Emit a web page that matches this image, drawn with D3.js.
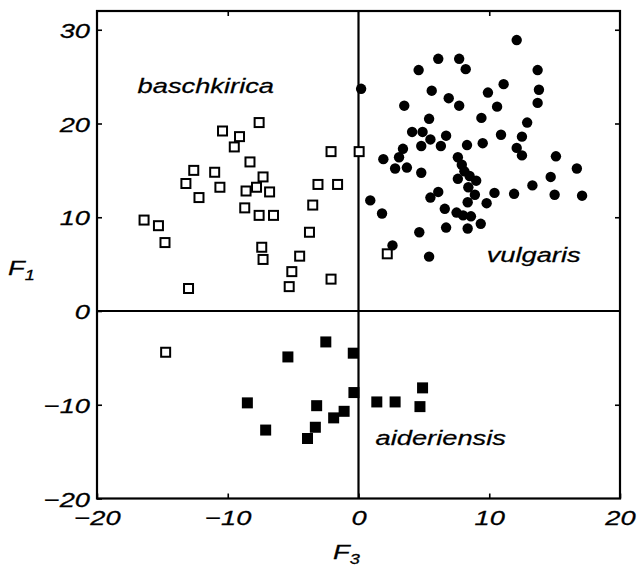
<!DOCTYPE html>
<html lang="en">
  <head>
    <meta charset="utf-8">
    <title>F3 vs F1</title>
    <script src="https://cdn.jsdelivr.net/npm/d3@7"></script>
    <style>
      body { margin: 0; background: #fff; }
      text { font-family: "Liberation Sans", Arial, sans-serif; font-style: italic; fill: #000; stroke: #000; stroke-width: 0.25; }
      .frame, .zero { fill: none; stroke: #000; stroke-width: 2.2; }
      .axis line { stroke: #000; stroke-width: 1.6; }
      .axis path { display: none; }
      .open { fill: #fff; stroke: #000; stroke-width: 2; }
      .filled { fill: #000; }
    </style>
  </head>
  <body>
    <script>
      // values, [F3, F1]
      var baschkirica = [
        [-7.6, 20.1], [-10.4, 19.2], [-9.1, 18.6], [-9.5, 17.5], [-2.1, 17.0], [0.05, 17.0],
        [-8.3, 15.9], [-12.6, 15.0], [-11.0, 14.8], [-7.3, 14.3], [-13.2, 13.6], [-3.1, 13.5],
        [-1.6, 13.5], [-7.8, 13.2], [-10.6, 13.2], [-8.6, 12.8], [-6.8, 12.7], [-12.2, 12.1],
        [-3.5, 11.3], [-8.7, 11.0], [-7.6, 10.2], [-6.5, 10.2], [-16.4, 9.7], [-15.3, 9.1],
        [-14.8, 7.3], [-3.75, 8.4], [-7.4, 6.8], [-7.3, 5.5], [-4.5, 5.85], [-5.1, 4.2],
        [-5.3, 2.6], [-2.1, 3.4], [-13.0, 2.4], [2.2, 6.1], [-14.75, -4.4]
      ];
      var vulgaris = [
        [0.2, 23.7], [12.1, 28.9], [6.1, 26.9], [7.7, 26.9], [8.2, 25.8], [4.6, 25.7],
        [13.7, 25.7], [11.1, 24.2], [5.6, 23.5], [9.9, 23.3], [13.8, 23.6], [6.9, 22.7],
        [7.7, 21.9], [13.7, 22.2], [3.5, 21.9], [10.6, 21.8], [9.4, 20.6], [5.4, 20.5],
        [12.9, 20.1], [4.1, 19.1], [4.9, 19.1], [5.5, 18.3], [6.7, 18.7], [10.9, 18.8],
        [12.5, 18.6], [4.8, 17.6], [6.3, 17.6], [8.3, 17.7], [9.5, 17.9], [3.4, 17.3],
        [12.1, 17.4], [12.5, 16.6], [1.9, 16.2], [3.1, 16.4], [7.6, 16.4], [15.1, 16.5],
        [2.8, 15.2], [3.7, 15.3], [7.9, 15.6], [8.1, 14.9], [4.8, 14.75], [16.7, 15.2],
        [7.6, 14.1], [8.5, 14.4], [14.7, 14.3], [9.0, 13.9], [6.1, 12.7], [5.5, 12.1],
        [8.4, 13.2], [8.9, 12.4], [10.4, 12.6], [11.9, 12.5], [13.3, 13.4], [15.0, 12.4],
        [17.1, 12.3], [0.9, 11.8], [8.35, 11.6], [9.8, 11.5], [6.6, 10.9], [7.5, 10.5],
        [8.0, 10.2], [8.6, 10.1], [9.35, 9.3], [8.35, 8.8], [6.7, 8.9], [1.8, 10.4],
        [4.65, 8.4], [2.6, 7.0], [5.4, 5.8]
      ];
      var aideriensis = [
        [-2.5, -3.3], [-5.4, -4.9], [-0.4, -4.5], [-0.35, -8.7], [-8.5, -9.8], [-3.2, -10.1],
        [1.4, -9.7], [2.8, -9.7], [4.7, -10.2], [4.9, -8.2], [-1.1, -10.7], [-1.9, -11.4],
        [-7.1, -12.7], [-3.3, -12.4], [-3.9, -13.6]
      ];
      var xTicks = [-20, -10, 0, 10, 20];
      var yTicks = [-20, -10, 0, 10, 20, 30];
      var groupLabels = [
        { text: "baschkirica", x: -16.9, y: 23.3 },
        { text: "vulgaris", x: 9.8, y: 5.2 },
        { text: "aideriensis", x: 1.3, y: -14.3 }
      ];

      var w = 638, h = 572;
      var stretch = 1.3;   // the lettering in the picture is widened

      var xScale = d3.scaleLinear().domain([-20, 20]).range([97, 620]);
      var yScale = d3.scaleLinear().domain([-20, 32]).range([498.5, 11]);

      var svg = d3.select("body").append("svg")
                  .attr("width", w)
                  .attr("height", h);

      // zero lines
      svg.append("line").attr("class", "zero")
         .attr("x1", xScale(0)).attr("x2", xScale(0))
         .attr("y1", yScale(32)).attr("y2", yScale(-20));
      svg.append("line").attr("class", "zero")
         .attr("x1", xScale(-20)).attr("x2", xScale(20))
         .attr("y1", yScale(0)).attr("y2", yScale(0));

      // axes, ticks pointing in
      var xAxis = d3.axisBottom(xScale).tickValues(xTicks).tickSizeInner(-5).tickSizeOuter(0).tickPadding(0);
      var yAxis = d3.axisLeft(yScale).tickValues(yTicks).tickSizeInner(-5).tickSizeOuter(0).tickPadding(0);

      var gx = svg.append("g").attr("class", "axis")
                  .attr("transform", "translate(0," + yScale(-20) + ")")
                  .call(xAxis);
      gx.selectAll("text")
        .attr("y", 27).attr("dy", 0)
        .attr("font-size", 21)
        .attr("transform", "scale(" + stretch + ",1)");

      var gy = svg.append("g").attr("class", "axis")
                  .attr("transform", "translate(" + xScale(-20) + ",0)")
                  .call(yAxis);
      gy.selectAll("text")
        .attr("x", -7 / stretch).attr("dy", "0.36em")
        .attr("font-size", 21)
        .attr("transform", "scale(" + stretch + ",1)");

      svg.append("g").attr("class", "axis")
         .attr("transform", "translate(0," + yScale(32) + ")")
         .call(d3.axisTop(xScale).tickValues([-10, 10]).tickSizeInner(-5).tickSizeOuter(0).tickFormat(""));
      svg.append("g").attr("class", "axis")
         .attr("transform", "translate(" + xScale(20) + ",0)")
         .call(d3.axisRight(yScale).tickValues([-10, 10, 20, 30]).tickSizeInner(-5).tickSizeOuter(0).tickFormat(""));

      // frame
      svg.append("rect").attr("class", "frame")
         .attr("x", xScale(-20)).attr("y", yScale(32))
         .attr("width", xScale(20) - xScale(-20))
         .attr("height", yScale(-20) - yScale(32));

      // points
      svg.append("g").selectAll("rect")
         .data(baschkirica).enter().append("rect")
         .attr("class", "open")
         .attr("x", function (d) { return xScale(d[0]) - 4.5; })
         .attr("y", function (d) { return yScale(d[1]) - 4.5; })
         .attr("width", 9).attr("height", 9);

      svg.append("g").selectAll("circle")
         .data(vulgaris).enter().append("circle")
         .attr("class", "filled")
         .attr("cx", function (d) { return xScale(d[0]); })
         .attr("cy", function (d) { return yScale(d[1]); })
         .attr("r", 5.2);

      svg.append("g").selectAll("rect")
         .data(aideriensis).enter().append("rect")
         .attr("class", "filled")
         .attr("x", function (d) { return xScale(d[0]) - 5.5; })
         .attr("y", function (d) { return yScale(d[1]) - 5.5; })
         .attr("width", 11).attr("height", 11);

      // group names
      svg.append("g").selectAll("text")
         .data(groupLabels).enter().append("text")
         .attr("transform", function (d) {
           return "translate(" + xScale(d.x) + "," + yScale(d.y) + ") scale(" + stretch + ",1)";
         })
         .attr("font-size", 21)
         .text(function (d) { return d.text; });

      // axis titles
      var yTitle = svg.append("text")
                      .attr("transform", "translate(8,275) scale(" + stretch + ",1)")
                      .attr("font-size", 21);
      yTitle.append("tspan").text("F");
      yTitle.append("tspan").attr("font-size", 14).attr("dy", 5).text("1");

      var xTitle = svg.append("text")
                      .attr("transform", "translate(333,559) scale(" + stretch + ",1)")
                      .attr("font-size", 21);
      xTitle.append("tspan").text("F");
      xTitle.append("tspan").attr("font-size", 14).attr("dy", 5).text("3");
    </script>
  </body>
</html>
